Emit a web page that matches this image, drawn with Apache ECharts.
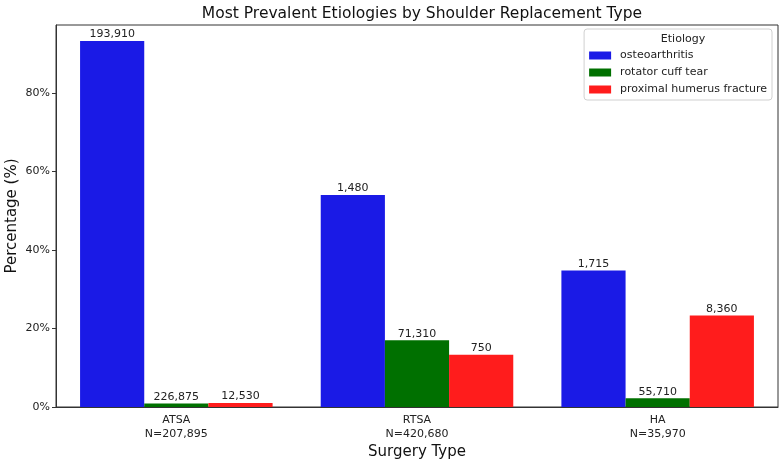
<!DOCTYPE html>
<html>
<head>
<meta charset="utf-8">
<script src="https://cdn.jsdelivr.net/npm/echarts@6/dist/echarts.min.js"></script>
<style>
  html, body { margin: 0; padding: 0; background: #fff; }
  #chart { width: 782px; height: 462px; }
</style>
</head>
<body>
<div id="chart"></div>
<script>
const categories = ['ATSA\nN=207,895', 'RTSA\nN=420,680', 'HA\nN=35,970']
const etiologies = ['osteoarthritis', 'rotator cuff tear', 'proximal humerus fracture']
// percentage per surgery type
const osteoPct = [93.2, 54.0, 34.8]
const cuffPct = [0.9, 17.0, 2.2]
const fracturePct = [1.0, 13.3, 23.3]
// counts written above the bars
const osteoCount = ['193,910', '1,480', '1,715']
const cuffCount = ['226,875', '71,310', '55,710']
const fractureCount = ['12,530', '750', '8,360']
const yTicks = [0, 20, 40, 60, 80]

const colors = ['#1a1ae6', '#007000', '#ff1c1c']
const font = 'DejaVu Sans'

function makeSeries(name, values, counts, i) {
  return {
    name: name,
    type: 'bar',
    data: values,
    barGap: 0,
    barCategoryGap: '20%',
    itemStyle: { color: colors[i] },
    label: {
      show: true,
      position: 'top',
      distance: 1,
      fontFamily: font,
      fontSize: 11,
      color: '#222',
      formatter: p => counts[p.dataIndex],
    },
  }
}

const chart = echarts.init(document.getElementById('chart'))
chart.setOption({
  animation: false,
  textStyle: { fontFamily: font },
  title: [
    {
      text: 'Most Prevalent Etiologies by Shoulder Replacement Type',
      left: 417,
      top: 1,
      textAlign: 'center',
      textStyle: { fontFamily: font, fontSize: 15.5, fontWeight: 'normal', color: '#111' },
    },
    {
      text: 'Etiology',
      left: 678,
      top: 29,
      textAlign: 'center',
      textStyle: { fontFamily: font, fontSize: 11, fontWeight: 'normal', color: '#222' },
    },
  ],
  legend: {
    data: etiologies,
    orient: 'vertical',
    right: 10,
    top: 29,
    padding: [20, 5, 4, 5],
    itemGap: 4,
    itemWidth: 22,
    itemHeight: 8,
    borderColor: '#d0d0d0',
    borderWidth: 1,
    borderRadius: 3,
    icon: 'rect',
    textStyle: { fontFamily: font, fontSize: 11, color: '#222', padding: [0, 0, 0, 4], lineHeight: 13 },
  },
  grid: {
    left: 56, right: 4, top: 25, bottom: 55,
    outerBoundsMode: 'none',
    containLabel: false,
    show: true, borderColor: '#333', borderWidth: 1,
  },
  xAxis: {
    type: 'category',
    data: categories,
    name: 'Surgery Type',
    nameLocation: 'middle',
    nameGap: 38,
    nameMoveOverlap: false,
    nameTextStyle: { fontFamily: font, fontSize: 15, color: '#111' },
    axisLine: { lineStyle: { color: '#333' } },
    axisTick: { alignWithLabel: true, length: 4, lineStyle: { color: '#333' } },
    axisLabel: { fontFamily: font, fontSize: 11, color: '#222', lineHeight: 14, margin: 6 },
  },
  yAxis: {
    type: 'value',
    min: 0,
    max: 97.3,
    interval: 20,
    name: 'Percentage (%)',
    nameLocation: 'middle',
    nameGap: 36,
    nameMoveOverlap: false,
    nameTextStyle: { fontFamily: font, fontSize: 15, color: '#111' },
    splitLine: { show: false },
    axisLine: { show: true, lineStyle: { color: '#333' } },
    axisTick: { show: true, length: 4, customValues: yTicks, lineStyle: { color: '#333' } },
    axisLabel: {
      fontFamily: font,
      fontSize: 11,
      color: '#222',
      margin: 6,
      customValues: yTicks,
      formatter: '{value}%',
    },
  },
  series: [
    makeSeries(etiologies[0], osteoPct, osteoCount, 0),
    makeSeries(etiologies[1], cuffPct, cuffCount, 1),
    makeSeries(etiologies[2], fracturePct, fractureCount, 2),
  ],
})
</script>
</body>
</html>
